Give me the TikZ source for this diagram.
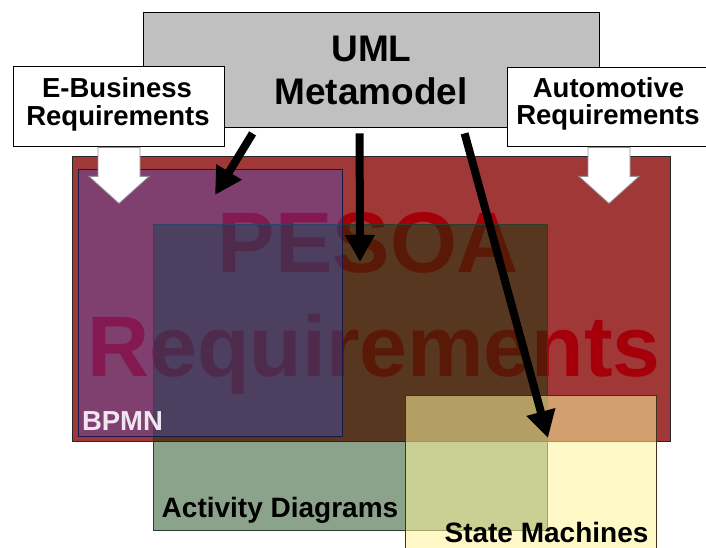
\documentclass[tikz,border=0pt]{standalone}
\usepackage{fontspec}
\setmainfont{Liberation Sans}
\usetikzlibrary{arrows.meta,calc}

\definecolor{pesoared}{RGB}{160,56,56}
\definecolor{pesoatext}{RGB}{165,0,10}
\definecolor{actgreen}{RGB}{3,55,3}
\definecolor{bpmnblue}{RGB}{53,83,243}
\definecolor{smyellow}{RGB}{255,245,155}
\definecolor{umlgray}{RGB}{192,192,192}
\definecolor{bpmnlabel}{RGB}{240,230,240}
\definecolor{arrowedge}{RGB}{150,150,150}

\newcommand{\fsz}[1]{\bfseries\fontsize{#1pt}{#1pt}\selectfont}

\begin{document}
\begin{tikzpicture}[x=1pt,y=-1pt,
  area/.style={rectangle, inner sep=0pt, line width=0.8pt},
  labelbox/.style={rectangle, draw=black, fill=white, inner sep=0pt, line width=0.8pt},
  lbl/.style={inner sep=0pt, anchor=base, font=\fsz{28}},
  boxlbl/.style={inner sep=0pt, anchor=base, font=\fsz{27.5}},
  bigtext/.style={inner sep=0pt, anchor=base, font=\fsz{86}, text=pesoatext},
  umltext/.style={inner sep=0pt, anchor=base, font=\fsz{37}},
  metaarrow/.style={line width=8pt, black, -{Triangle[length=27pt,width=28pt]}},
  blockarrow/.pic={
    \draw[arrowedge, fill=white, line width=0.8pt]
      (-21,0) -- (21,0) -- (21,29) -- (30,29) -- (0,56) -- (-30,29) -- (-21,29) -- cycle;
  }]

\useasboundingbox (0,0) rectangle (706,548);
\fill[white] (0,0) rectangle (706,548);

% PESOA requirements area with its big title underneath the overlays
\node[area, draw=black!85, fill=pesoared, minimum width=598pt, minimum height=285pt]
  (pesoa) at (371,298.5) {};
\node[bigtext] (pesoaword) at (368.5,272) {PESOA};
\node[bigtext] (reqword) at (374,376) {Requirements};

% Activity diagrams, BPMN and state machines as translucent layers
\node[area, draw={rgb,255:red,45;green,60;blue,45}, fill=actgreen, fill opacity=0.46,
  minimum width=394pt, minimum height=306pt] (act) at (350,377) {};
\node[area, draw={rgb,255:red,25;green,25;blue,70}, fill=bpmnblue, fill opacity=0.3,
  minimum width=264pt, minimum height=267pt] (bpmn) at (210,302.5) {};
\node[area, draw={rgb,255:red,60;green,50;blue,25}, fill=smyellow, fill opacity=0.55,
  minimum width=251pt, minimum height=165pt] (sm) at (530.5,477.5) {};

\node[boxlbl, text=bpmnlabel] (bpmnlbl) at (122.5,430) {BPMN};
\node[lbl] (actlbl) at (280,517) {Activity Diagrams};
\node[lbl] (smlbl) at (546.5,542) {State Machines};

% UML metamodel
\node[area, draw=black, fill=umlgray, minimum width=456pt, minimum height=115pt]
  (uml) at (371,69.5) {};
\node[umltext] (umlA) at (371.5,62) {UML};
\node[umltext] (umlB) at (371,105) {Metamodel};

% Domain requirement boxes
\node[labelbox, minimum width=211pt, minimum height=80pt] (ebiz) at (118.5,106) {};
\node[boxlbl] (ebizA) at (117,98) {E-Business};
\node[boxlbl] (ebizB) at (118,125.5) {Requirements};

\node[labelbox, minimum width=202pt, minimum height=79pt] (auto) at (608,106.5) {};
\node[boxlbl] (autoA) at (608.5,98) {Automotive};
\node[boxlbl] (autoB) at (608,125) {Requirements};

% Requirements flowing into PESOA
\pic at ($(ebiz.south)+(0.5,1)$) {blockarrow};
\pic at ($(auto.south)+(1,1)$) {blockarrow};

% Metamodel feeding the three notations
\coordinate (tipbpmn) at (215,195);
\coordinate (tipact) at (360,262);
\coordinate (tipsm) at (548,438);
\draw[metaarrow] ($(uml.south west)+(110,6)$) -- (tipbpmn);
\draw[metaarrow] ($(uml.south west)+(217,6)$) -- (tipact);
\draw[metaarrow] ($(uml.south west)+(322,6)$) -- (tipsm);

\end{tikzpicture}
\end{document}
